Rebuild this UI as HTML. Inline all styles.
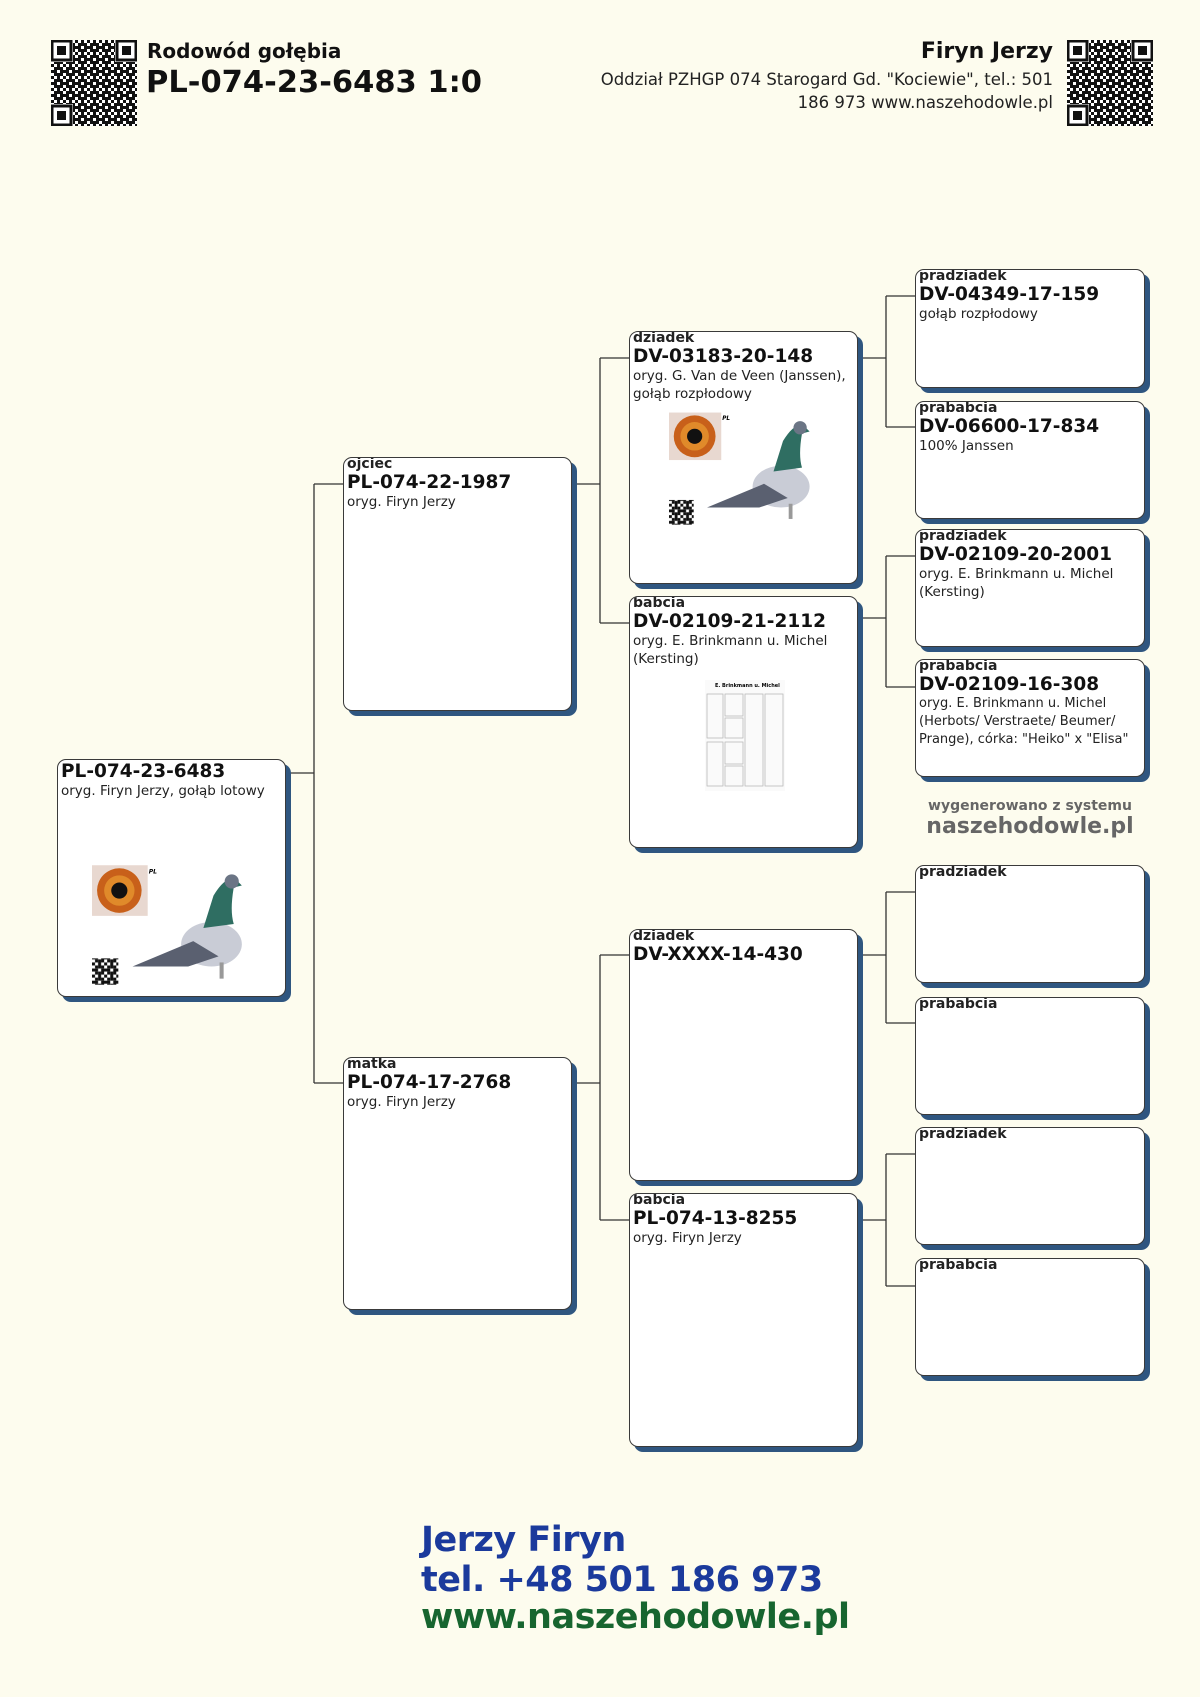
<!DOCTYPE html>
<html><head><meta charset="utf-8">
<style>
*{margin:0;padding:0;box-sizing:border-box}
body{width:1200px;height:1697px;background:#fdfcee;position:relative;font-family:"DejaVu Sans","Liberation Sans",sans-serif;color:#111;overflow:hidden}
.a{position:absolute}
.box{position:absolute;background:#fff;border:1.5px solid #3a3a3a;border-radius:9px;box-shadow:5px 5px 0 #2f5680;padding:0 3px;overflow:hidden}
.lb{font-size:14px;font-weight:bold;line-height:15px;margin-top:-1px;color:#222}
.id{font-size:18.5px;font-weight:bold;line-height:21px}
.ds{font-size:13.5px;line-height:18px;color:#222}
.ft{font-family:"DejaVu Sans",sans-serif;font-weight:900;font-size:35px;line-height:40px;letter-spacing:-0.5px}
</style></head><body>
<svg width="0" height="0" style="position:absolute"><defs>
<pattern id="qp" width="12" height="12" patternUnits="userSpaceOnUse">
<rect x="0" y="0" width="3" height="3" fill="#111"/><rect x="6" y="0" width="3" height="6" fill="#111"/><rect x="3" y="3" width="3" height="3" fill="#111"/><rect x="9" y="3" width="3" height="3" fill="#111"/><rect x="0" y="6" width="6" height="3" fill="#111"/><rect x="9" y="6" width="3" height="6" fill="#111"/><rect x="3" y="9" width="3" height="3" fill="#111"/><rect x="6" y="9" width="3" height="3" fill="#111"/>
</pattern>
<g id="qr"><rect width="86" height="86" fill="#fff"/><rect width="86" height="86" fill="url(#qp)"/>
<rect x="0" y="0" width="22" height="22" fill="#fff"/><rect x="1" y="1" width="19" height="19" fill="none" stroke="#111" stroke-width="3"/><rect x="6" y="6" width="9" height="9" fill="#111"/>
<rect x="64" y="0" width="22" height="22" fill="#fff"/><rect x="66" y="1" width="19" height="19" fill="none" stroke="#111" stroke-width="3"/><rect x="71" y="6" width="9" height="9" fill="#111"/>
<rect x="0" y="64" width="22" height="22" fill="#fff"/><rect x="1" y="66" width="19" height="19" fill="none" stroke="#111" stroke-width="3"/><rect x="6" y="71" width="9" height="9" fill="#111"/></g>
<g id="pig">
<rect width="160" height="122" fill="#fff"/>
<rect x="0" y="0" width="55" height="50" fill="#e8d8d0"/>
<circle cx="27" cy="25" r="22" fill="#c8601a"/><circle cx="27" cy="25" r="15" fill="#e08a2a"/><circle cx="27" cy="25" r="8" fill="#111"/>
<ellipse cx="118" cy="78" rx="30" ry="22" fill="#c9ccd6"/>
<path d="M120 30 Q132 10 142 14 L148 20 L140 22 Q136 45 140 58 L110 62 Z" fill="#2f6e62"/>
<circle cx="138" cy="16" r="7" fill="#6b7585"/>
<path d="M40 100 L100 75 L125 90 L95 100 Z" fill="#5a6070"/>
<rect x="126" y="96" width="4" height="16" fill="#999"/>
<rect x="0" y="92" width="26" height="26" fill="url(#qp)"/>
<text x="56" y="8" font-size="6" font-style="italic" font-weight="bold" font-family="DejaVu Sans">PL</text>
</g>
</defs></svg>

<!-- header -->
<svg class="a" style="left:51px;top:40px" width="86" height="86"><use href="#qr"/></svg>
<div class="a" style="left:147px;top:39px;font-size:20px;font-weight:bold">Rodowód gołębia</div>
<div class="a" style="left:146px;top:65px;font-size:30.5px;font-weight:bold">PL-074-23-6483 1:0</div>
<svg class="a" style="left:1067px;top:40px" width="86" height="86"><use href="#qr"/></svg>
<div class="a" style="right:147px;top:39px;font-size:22px;font-weight:bold;text-align:right">Firyn Jerzy</div>
<div class="a" style="right:147px;top:68px;font-size:16.5px;line-height:23px;text-align:right;width:560px;color:#222">Oddział PZHGP 074 Starogard Gd. "Kociewie", tel.: 501<br>186 973 www.naszehodowle.pl</div>

<!-- connectors -->
<svg class="a" style="left:0;top:0" width="1200" height="1697">
<g stroke="#333" stroke-width="1.3" fill="none">
<path d="M287 773 H314 M314 484 V1083 M314 484 H343 M314 1083 H343"/>
<path d="M571 484 H600 M600 358 V623 M600 358 H629 M600 623 H629"/>
<path d="M571 1083 H600 M600 955 V1220 M600 955 H629 M600 1220 H629"/>
<path d="M858 358 H886 M886 296 V427 M886 296 H915 M886 427 H915"/>
<path d="M858 618 H886 M886 556 V687 M886 556 H915 M886 687 H915"/>
<path d="M858 955 H886 M886 892 V1023 M886 892 H915 M886 1023 H915"/>
<path d="M858 1220 H886 M886 1154 V1286 M886 1154 H915 M886 1286 H915"/>
</g></svg>

<!-- root -->
<div class="box" style="left:57px;top:759px;width:229px;height:238px">
<div class="id" style="margin-top:1px">PL-074-23-6483</div>
<div class="ds">oryg. Firyn Jerzy, gołąb lotowy</div>
<svg class="a" style="left:34px;top:105px" width="162" height="124" viewBox="0 0 160 122"><use href="#pig"/></svg>
</div>

<div class="box" style="left:343px;top:457px;width:229px;height:254px">
<div class="lb">ojciec</div><div class="id">PL-074-22-1987</div><div class="ds">oryg. Firyn Jerzy</div></div>
<div class="box" style="left:343px;top:1057px;width:229px;height:253px">
<div class="lb">matka</div><div class="id">PL-074-17-2768</div><div class="ds">oryg. Firyn Jerzy</div></div>

<div class="box" style="left:629px;top:331px;width:229px;height:253px">
<div class="lb">dziadek</div><div class="id">DV-03183-20-148</div><div class="ds">oryg. G. Van de Veen (Janssen),<br>gołąb rozpłodowy</div>
<svg class="a" style="left:39px;top:80px" width="152" height="117" viewBox="0 0 160 122"><use href="#pig"/></svg></div>
<div class="box" style="left:629px;top:596px;width:229px;height:252px">
<div class="lb">babcia</div><div class="id">DV-02109-21-2112</div><div class="ds">oryg. E. Brinkmann u. Michel<br>(Kersting)</div>
<svg class="a" style="left:75px;top:83px" width="80" height="111"><rect width="80" height="111" fill="#fafafa"/><g stroke="#bbb" fill="none" stroke-width="0.8"><rect x="2" y="14" width="16" height="44"/><rect x="2" y="62" width="16" height="44"/><rect x="20" y="14" width="18" height="22"/><rect x="20" y="38" width="18" height="20"/><rect x="20" y="62" width="18" height="22"/><rect x="20" y="86" width="18" height="20"/><rect x="40" y="14" width="18" height="92"/><rect x="60" y="14" width="18" height="92"/></g><text x="10" y="7" font-size="5" font-weight="bold">E. Brinkmann u. Michel</text></svg></div>
<div class="box" style="left:629px;top:929px;width:229px;height:252px">
<div class="lb">dziadek</div><div class="id">DV-XXXX-14-430</div></div>
<div class="box" style="left:629px;top:1193px;width:229px;height:254px">
<div class="lb">babcia</div><div class="id">PL-074-13-8255</div><div class="ds">oryg. Firyn Jerzy</div></div>

<div class="box" style="left:915px;top:269px;width:230px;height:119px"><div class="lb">pradziadek</div><div class="id">DV-04349-17-159</div><div class="ds">gołąb rozpłodowy</div></div>
<div class="box" style="left:915px;top:401px;width:230px;height:118px"><div class="lb">prababcia</div><div class="id">DV-06600-17-834</div><div class="ds">100% Janssen</div></div>
<div class="box" style="left:915px;top:529px;width:230px;height:118px"><div class="lb">pradziadek</div><div class="id">DV-02109-20-2001</div><div class="ds">oryg. E. Brinkmann u. Michel<br>(Kersting)</div></div>
<div class="box" style="left:915px;top:659px;width:230px;height:118px"><div class="lb">prababcia</div><div class="id">DV-02109-16-308</div><div class="ds" style="font-size:13px">oryg. E. Brinkmann u. Michel<br>(Herbots/ Verstraete/ Beumer/<br>Prange), córka: "Heiko" x "Elisa"</div></div>
<div class="box" style="left:915px;top:865px;width:230px;height:118px"><div class="lb">pradziadek</div></div>
<div class="box" style="left:915px;top:997px;width:230px;height:118px"><div class="lb">prababcia</div></div>
<div class="box" style="left:915px;top:1127px;width:230px;height:118px"><div class="lb">pradziadek</div></div>
<div class="box" style="left:915px;top:1258px;width:230px;height:118px"><div class="lb">prababcia</div></div>

<div class="a" style="left:900px;top:798px;width:260px;text-align:center;font-size:14px;font-weight:bold;color:#666">wygenerowano z systemu</div>
<div class="a" style="left:900px;top:814px;width:260px;text-align:center;font-size:22px;font-weight:bold;color:#666">naszehodowle.pl</div>

<div class="a ft" style="left:421px;top:1520px;color:#1b3a9c">Jerzy Firyn</div>
<div class="a ft" style="left:421px;top:1560px;color:#1b3a9c">tel. +48 501 186 973</div>
<div class="a ft" style="left:421px;top:1597px;color:#17652f">www.naszehodowle.pl</div>
</body></html>
